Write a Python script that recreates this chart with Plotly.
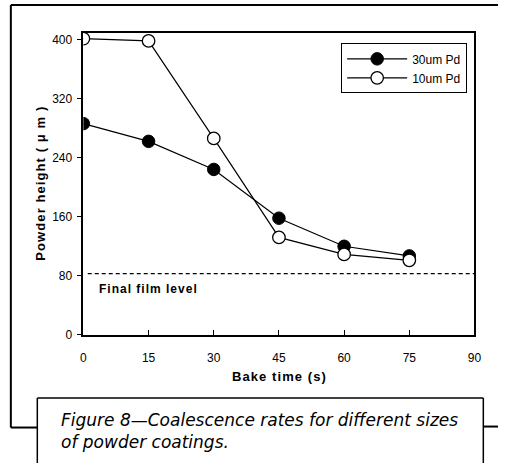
import plotly.graph_objects as go

# Bake time (s) and measured powder height (um)
bake_time = [0, 15, 30, 45, 60, 75]
height_30um = [286, 262, 224, 158, 120, 107]
height_10um = [401, 398, 266, 132, 109, 101]
series_names = ["30um Pd", "10um Pd"]
final_film_level = 83
x_ticks = [0, 15, 30, 45, 60, 75, 90]
y_ticks = [0, 80, 160, 240, 320, 400]

W, H = 506, 470
PLOT_L, PLOT_R, PLOT_T, PLOT_B = 82, 481, 33, 340
HAIR = "\u200a"


def px(x):
    return x / W


def py(y):
    return 1 - y / H


def spaced(text):
    # widen the letter spacing of a label
    return HAIR.join(text)


fig = go.Figure()

fig.add_trace(go.Scatter(
    x=bake_time, y=height_30um, name=series_names[0], mode="lines+markers",
    line=dict(color="black", width=1.2),
    marker=dict(symbol="circle", size=12.5, color="black",
                line=dict(color="black", width=1)),
))
fig.add_trace(go.Scatter(
    x=bake_time, y=height_10um, name=series_names[1], mode="lines+markers",
    line=dict(color="black", width=1.2),
    marker=dict(symbol="circle", size=12.5, color="white",
                line=dict(color="black", width=1.3)),
))

FAMILY = "Liberation Sans, Arial, sans-serif"
axis_font = dict(family=FAMILY, size=12, color="black")
title_font = dict(family=FAMILY, size=13, color="black")

frame = dict(color="black", width=2)
shapes = [
    # final film level
    dict(type="line", xref="x", yref="y", x0=1, x1=90,
         y0=final_film_level, y1=final_film_level,
         line=dict(color="black", width=1.2, dash="4px,3px")),
    # outer frame
    dict(type="line", xref="paper", yref="paper", x0=px(8), x1=px(505),
         y0=py(5), y1=py(5), line=frame),
    dict(type="line", xref="paper", yref="paper", x0=px(8), x1=px(8),
         y0=py(5), y1=py(434), line=frame),
    dict(type="line", xref="paper", yref="paper", x0=px(8), x1=px(35),
         y0=py(434), y1=py(434), line=frame),
    dict(type="line", xref="paper", yref="paper", x0=px(490), x1=px(505),
         y0=py(433), y1=py(433), line=frame),
    # caption box (runs off the bottom edge)
    dict(type="rect", xref="paper", yref="paper", x0=px(35), x1=px(490),
         y0=py(404), y1=py(470), line=dict(width=0), fillcolor="white"),
    dict(type="line", xref="paper", yref="paper", x0=px(35), x1=px(490),
         y0=py(404), y1=py(404), line=dict(color="black", width=1.5)),
    dict(type="line", xref="paper", yref="paper", x0=px(35), x1=px(35),
         y0=py(404), y1=py(470), line=dict(color="black", width=1.5)),
    dict(type="line", xref="paper", yref="paper", x0=px(490), x1=px(490),
         y0=py(404), y1=py(470), line=dict(color="black", width=1.5)),
]

annotations = [
    dict(text="<b>" + spaced("Final film level") + "</b>", xref="paper", yref="paper",
         x=px(96), y=py(293), xanchor="left", yanchor="middle", showarrow=False,
         font=dict(family=FAMILY, size=12, color="black")),
    dict(text="<i>Figure 8—Coalescence rates for different sizes<br>of powder coatings.</i>",
         xref="paper", yref="paper", x=px(57), y=py(414), xanchor="left",
         yanchor="top", align="left", showarrow=False,
         font=dict(family="DejaVu Sans, sans-serif", size=17, color="black")),
]

fig.update_layout(
    width=W, height=H,
    margin=dict(l=0, r=0, t=0, b=0),
    paper_bgcolor="white", plot_bgcolor="white",
    showlegend=True,
    legend=dict(x=px(345), y=py(44), xanchor="left", yanchor="top",
                bordercolor="black", borderwidth=1, bgcolor="white",
                font=axis_font, itemwidth=60, tracegroupgap=0),
    xaxis=dict(domain=[px(PLOT_L), px(PLOT_R)], range=[0, 90],
               tickvals=x_ticks, ticks="inside", ticklen=5, tickcolor="black",
               ticklabelstandoff=11,
               showline=True, linecolor="black", linewidth=1.5, mirror=True,
               showgrid=False, zeroline=False, tickfont=axis_font,
               title=dict(text="<b>" + spaced("Bake time (s)") + "</b>",
                          font=title_font, standoff=8)),
    yaxis=dict(domain=[py(PLOT_B), py(PLOT_T)],
               range=[0, (PLOT_B - PLOT_T) / 0.75],
               tickvals=y_ticks, ticks="outside", ticklen=5, tickcolor="black",
               ticklabelstandoff=2,
               showline=True, linecolor="black", linewidth=1.5, mirror=True,
               showgrid=False, zeroline=False, tickfont=axis_font,
               title=dict(text="<b>" + spaced("Powder height ( μ m )") + "</b>",
                          font=title_font, standoff=4)),
    shapes=shapes,
    annotations=annotations,
)

fig.write_html("out.html")
